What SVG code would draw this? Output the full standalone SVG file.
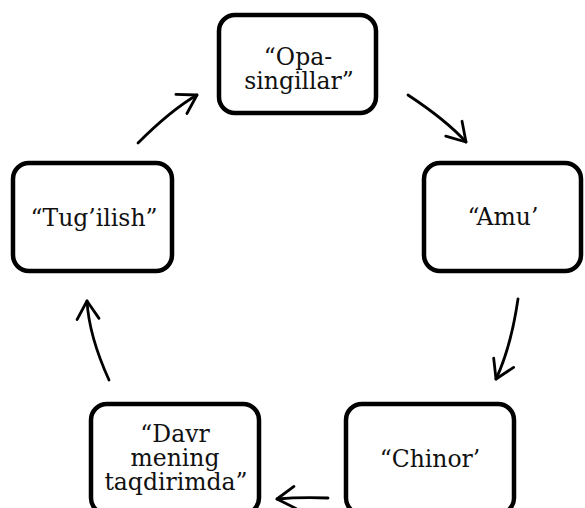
<svg xmlns="http://www.w3.org/2000/svg" width="585" height="508" viewBox="0 0 585 508">
<style>
.box{fill:#fff;stroke:#000;stroke-width:4.5}
.t{font-family:"DejaVu Serif","Liberation Serif",serif;font-size:23.5px;fill:#111;text-anchor:middle}
.c{fill:none;stroke:#000;stroke-width:2.8;stroke-linecap:round}
</style>
<defs>
<marker id="ah" markerUnits="userSpaceOnUse" markerWidth="40" markerHeight="40" refX="0" refY="0" orient="auto" overflow="visible">
<path d="M-18,-11 L0,0 L-18,11" fill="none" stroke="#000" stroke-width="2.8" stroke-linecap="round" stroke-linejoin="round"/>
</marker>
</defs>
<rect width="585" height="508" fill="#fff"/>
<g id="n-opa">
<rect class="box" x="219" y="15" width="157" height="98" rx="16"/>
<text class="t" x="298" y="65">“Opa-</text>
<text class="t" x="299" y="89">singillar”</text>
</g>
<g id="n-amu">
<rect class="box" x="424" y="163" width="157" height="108" rx="16"/>
<text class="t" x="503" y="225">“Amu’</text>
</g>
<g id="n-chinor">
<rect class="box" x="346" y="404" width="168" height="110" rx="16"/>
<text class="t" x="430" y="467">“Chinor’</text>
</g>
<g id="n-davr">
<rect class="box" x="91" y="404" width="168" height="110" rx="16"/>
<text class="t" x="175" y="442">“Davr</text>
<text class="t" x="175" y="466">mening</text>
<text class="t" x="176" y="490">taqdirimda”</text>
</g>
<g id="n-tug">
<rect class="box" x="13" y="163" width="159" height="108" rx="16"/>
<text class="t" x="94" y="226">“Tug’ilish”</text>
</g>
<g id="connectors">
<path class="c" d="M138,143 Q171,110 197,95" marker-end="url(#ah)"/>
<path class="c" d="M408,95 Q446,120 466,142" marker-end="url(#ah)"/>
<path class="c" d="M518,299 Q511,347 496,379" marker-end="url(#ah)"/>
<path class="c" d="M328,498 Q300,497 277,499" marker-end="url(#ah)"/>
<path class="c" d="M109,380 Q89,336 87,301" marker-end="url(#ah)"/>
</g>
</svg>
